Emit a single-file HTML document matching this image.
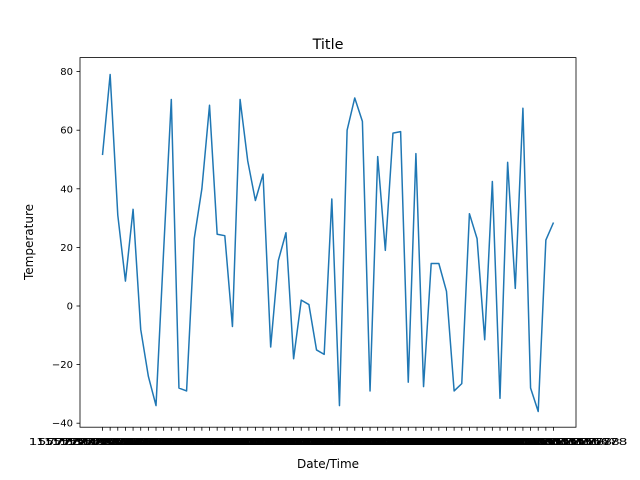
<!DOCTYPE html>
<html><head><meta charset="utf-8"><style>
html,body{margin:0;padding:0;background:#fff;}
svg{display:block;font-family:"DejaVu Sans","Liberation Sans",sans-serif;}
</style></head><body>
<svg id="chart" width="640" height="480" viewBox="0 0 640 480" xmlns="http://www.w3.org/2000/svg">
<rect width="640" height="480" fill="#fff"/>
<text x="328" y="49" text-anchor="middle" font-size="14.4">Title</text>
<text x="328" y="468" text-anchor="middle" font-size="12">Date/Time</text>
<text transform="translate(33,242) rotate(-90)" text-anchor="middle" font-size="12">Temperature</text>
<g id="plot"></g>
<rect x="80" y="57.6" width="496" height="369.6" fill="none" stroke="#000" stroke-width="0.8"/>
</svg>
<script>
const temps = [51.5,79,31,8.5,33,-8,-24,-34,19,70.5,-28,-29,23,40,68.5,24.5,24,-7,70.5,49.5,36,45,-14,15.5,25,-18,2,0.5,-15,-16.5,36.5,-34,60,71,63,-29,51,19,59,59.5,-26,52,-27.5,14.5,14.5,5,-29,-26.5,31.5,23,-11.5,42.5,-31.5,49,6,67.5,-28,-36,22.5,28.5];
const yTicks = [-40,-20,0,20,40,60,80];
const xLabelBase = 1577836800;

const NS = "http://www.w3.org/2000/svg";
const g = document.getElementById('plot');
const n = temps.length;
const x0 = 102.5, x1 = 553.5;
function xs(i){ return x0 + (x1 - x0) * i / (n - 1); }
function ys(v){ return 306 - v * (58.6 / 20); }
function mk(tag, attrs){ const e = document.createElementNS(NS, tag); for (const k in attrs) e.setAttribute(k, attrs[k]); g.appendChild(e); return e; }

yTicks.forEach(t => {
  const y = ys(t);
  const tk = mk('line', {x1:76.5, x2:80, y1:y, y2:y, stroke:'#000', 'stroke-width':0.8});
  
  
  const lb = mk('text', {x:73, y:y+3.5, 'text-anchor':'end', 'font-size':10});
  lb.textContent = t < 0 ? '\u2212' + Math.abs(t) : String(t);
  
  
});

temps.forEach((v, i) => {
  const x = xs(i);
  const tk = mk('line', {x1:x, x2:x, y1:427.2, y2:430.7, stroke:'#000', 'stroke-width':0.8});
  
  
  const lb = mk('text', {x:x, y:445, 'text-anchor':'middle', 'font-size':10, textLength:148, lengthAdjust:'spacingAndGlyphs'});
  lb.textContent = String(xLabelBase + i * 3600) + '.335678';
  
  
});

const pts = temps.map((v, i) => xs(i).toFixed(2) + ',' + ys(v).toFixed(2)).join(' ');
const line = mk('polyline', {points:pts, fill:'none', stroke:'#1f77b4', 'stroke-width':1.5, 'stroke-linejoin':'round'});


</script>
</body></html>
